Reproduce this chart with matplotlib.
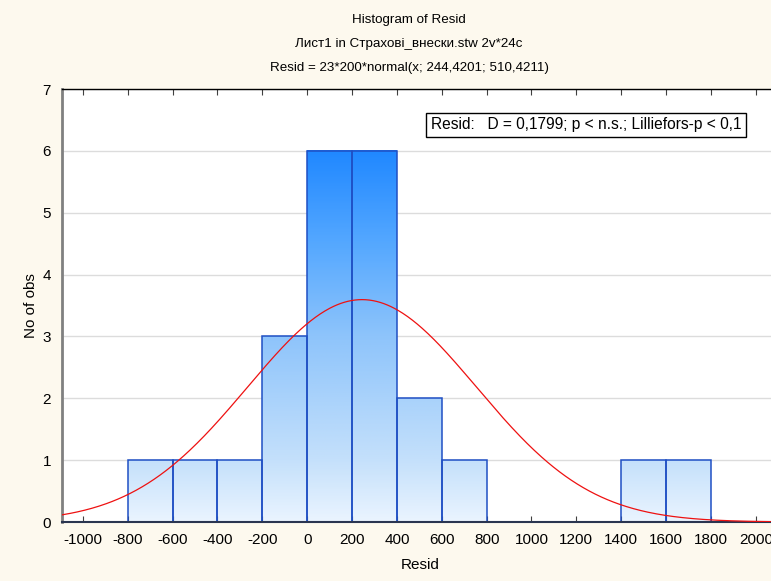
import matplotlib

matplotlib.use("Agg")

import matplotlib.pyplot as plt
import numpy as np
from matplotlib import font_manager
from matplotlib.colors import LinearSegmentedColormap

bin_edges = [-800, -600, -400, -200, 0, 200, 400, 600, 800, 1000, 1200, 1400, 1600, 1800]
counts = [1, 1, 1, 3, 6, 6, 2, 1, 0, 0, 0, 1, 1]
n_obs = 23
bin_width = 200
fit_mean = 244.4201
fit_sd = 510.4211
x_ticks = list(range(-1000, 2001, 200))
y_ticks = list(range(0, 8))

titles = [
    "Histogram of Resid",
    "Лист1 in Страхові_внески.stw 2v*24c",
    "Resid = 23*200*normal(x; 244,4201; 510,4211)",
]
stats_text = "Resid:   D = 0,1799; p < n.s.; Lilliefors-p < 0,1"

plt.rcParams["font.family"] = ["Liberation Sans", "DejaVu Sans"]

# titles in the original use a condensed face
names = {f.name for f in font_manager.fontManager.ttflist}
if "Liberation Sans Narrow" in names:
    title_family = ["Liberation Sans Narrow", "DejaVu Sans"]
    title_size = 11.5
else:
    title_family = ["Liberation Sans", "DejaVu Sans"]
    title_size = 9.6

bg = "#fdf9ee"
fig = plt.figure(figsize=(7.71, 5.81), dpi=100, facecolor=bg)
ax = fig.add_axes([0.0804, 0.1015, 0.9290, 0.7453], facecolor="white")

xmin, xmax = -1093, 2100
ax.set_xlim(xmin, xmax)
ax.set_ylim(0, 7)

grad = LinearSegmentedColormap.from_list(
    "stat_blue",
    [(0.0, "#eaf4ff"), (1 / 6, "#c4e0fb"), (0.5, "#8ec4fb"), (0.75, "#55a8ff"), (1.0, "#2088ff")],
)

for y in y_ticks[1:]:
    ax.axhline(y, color="#dcdcdc", lw=1.0, zorder=0)

for left, right, c in zip(bin_edges[:-1], bin_edges[1:], counts):
    if c == 0:
        continue
    yy = np.linspace(c, 0, 200).reshape(-1, 1)
    ax.imshow(
        yy,
        extent=(left, right, 0, c),
        cmap=grad,
        vmin=0,
        vmax=6,
        aspect="auto",
        interpolation="bilinear",
        zorder=1,
    )
    ax.bar(left, c, width=right - left, align="edge", fill=False,
           edgecolor="#1f4fc4", linewidth=1.1, zorder=2)

xs = np.linspace(xmin, xmax, 600)
ys = n_obs * bin_width * np.exp(-0.5 * ((xs - fit_mean) / fit_sd) ** 2) / (fit_sd * np.sqrt(2 * np.pi))
ax.plot(xs, ys, color="#ee1111", lw=0.9, zorder=3)

ax.set_xlim(xmin, xmax)
ax.set_ylim(0, 7)
ax.set_xticks(x_ticks)
ax.set_xticklabels([str(t) for t in x_ticks], fontsize=11)
ax.set_yticks(y_ticks)
ax.set_yticklabels([str(t) for t in y_ticks], fontsize=11)
ax.tick_params(axis="x", direction="in", length=4, top=True, color="#404040", pad=8)
ax.tick_params(axis="y", length=0, pad=8)

ax.spines["top"].set_color("black")
ax.spines["top"].set_linewidth(1.0)
ax.spines["left"].set_color("#808080")
ax.spines["left"].set_linewidth(2.0)
ax.spines["bottom"].set_color("#2a3550")
ax.spines["bottom"].set_linewidth(1.5)
ax.spines["right"].set_visible(False)

ax.set_xlabel("Resid", fontsize=11, labelpad=8)
ax.set_ylabel("No of obs", fontsize=11, labelpad=3)

for i, t in enumerate(titles):
    fig.text(409 / 771, 1 - (20 + 24 * i) / 581, t, ha="center", va="center",
             fontsize=title_size, family=title_family)

fig.text(
    431 / 771, 1 - 125 / 581, stats_text, fontsize=11.2, ha="left", va="center",
    bbox=dict(boxstyle="square,pad=0.3", facecolor="white", edgecolor="black", lw=1.0),
)

fig.savefig("out.png", dpi=100, facecolor=fig.get_facecolor())
